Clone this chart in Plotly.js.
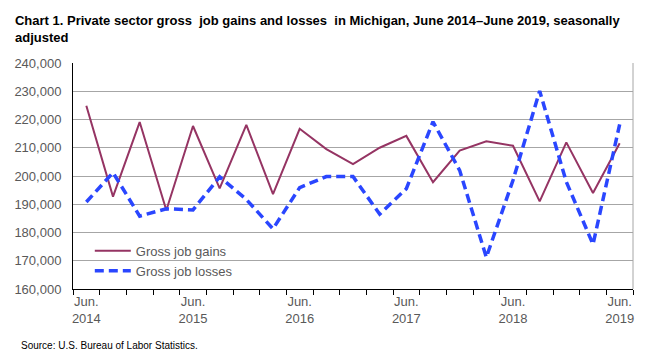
<!DOCTYPE html>
<html>
<head>
<meta charset="utf-8">
<script src="https://cdn.plot.ly/plotly-3.0.1.min.js"></script>
<style>
html,body{margin:0;padding:0;background:#fff;}
#chart{width:651px;height:364px;}
</style>
</head>
<body>
<div id="chart"></div>
<script>
const categories = [
  "Jun 2014","Sep 2014","Dec 2014","Mar 2015",
  "Jun 2015","Sep 2015","Dec 2015","Mar 2016",
  "Jun 2016","Sep 2016","Dec 2016","Mar 2017",
  "Jun 2017","Sep 2017","Dec 2017","Mar 2018",
  "Jun 2018","Sep 2018","Dec 2018","Mar 2019",
  "Jun 2019"
];
const grossJobGains = [
  224900, 192700, 219100, 187900,
  217700, 195600, 218100, 193600,
  216700, 209500, 204200, 210000,
  214200, 197800, 209000, 212300,
  210700, 191000, 211900, 194000,
  211600
];
const grossJobLosses = [
  190800, 201200, 185800, 188400,
  188000, 199700, 191700, 181300,
  195900, 199800, 199800, 186500,
  195500, 219200, 202000, 171200,
  198500, 230100, 197900, 175800,
  218300
];
const tickLabelMap = {
  "Jun 2014":"Jun.<br>2014","Jun 2015":"Jun.<br>2015","Jun 2016":"Jun.<br>2016",
  "Jun 2017":"Jun.<br>2017","Jun 2018":"Jun.<br>2018","Jun 2019":"Jun.<br>2019"
};
const yTickVals = [160000,170000,180000,190000,200000,210000,220000,230000,240000];
const yTickText = ["160,000","170,000","180,000","190,000","200,000","210,000","220,000","230,000","240,000"];

const traces = [
  {
    x: categories, y: grossJobGains, type: "scatter", mode: "lines",
    name: "Gross job gains",
    line: {color: "#953463", width: 2}
  },
  {
    x: categories, y: grossJobLosses, type: "scatter", mode: "lines",
    name: "Gross job losses",
    line: {color: "#2A46FF", width: 3.5, dash: "9px,5px"}
  }
];

const layout = {
  width: 651, height: 364,
  paper_bgcolor: "#ffffff", plot_bgcolor: "#ffffff",
  margin: {l: 73, r: 18, t: 63, b: 75, pad: 0},
  font: {family: "Liberation Sans, Arial, sans-serif", color: "#595959", size: 13},
  title: {
    text: "<b>Chart 1. Private sector gross  job gains and losses  in Michigan, June 2014–June 2019, seasonally<br>adjusted</b>",
    font: {family: "Liberation Sans, Arial, sans-serif", size: 13, color: "#000000"},
    x: 0.023, xref: "container", xanchor: "left",
    y: 0.93, yref: "container", yanchor: "top"
  },
  xaxis: {
    type: "category",
    tickmode: "array",
    tickvals: categories,
    ticktext: categories.map(c => tickLabelMap[c] || ""),
    tickson: "boundaries",
    tickangle: 0,
    ticks: "outside", ticklen: 5, tickcolor: "#000000", tickwidth: 1,
    showgrid: false, zeroline: false,
    showline: true, linecolor: "#000000", linewidth: 1,
    mirror: false,
    tickfont: {size: 13, color: "#595959"},
    range: [-0.5, 20.5],
    fixedrange: true
  },
  yaxis: {
    range: [160000, 240000],
    tickmode: "array", tickvals: yTickVals, ticktext: yTickText,
    showgrid: true, gridcolor: "#A6A6A6", gridwidth: 1,
    showline: true, linecolor: "#000000", linewidth: 1,
    zeroline: false, ticks: "", ticklabelstandoff: 8,
    tickfont: {size: 13, color: "#595959"},
    fixedrange: true
  },
  shapes: [
    {type: "line", xref: "paper", yref: "paper", x0: 1, x1: 1, y0: 0, y1: 1,
     line: {color: "#A6A6A6", width: 1}}
  ],
  legend: {
    x: 0.03, y: 0.235, xanchor: "left", yanchor: "top",
    bgcolor: "rgba(0,0,0,0)", borderwidth: 0,
    font: {size: 13, color: "#595959"},
    tracegroupgap: 0, itemwidth: 36
  },
  annotations: [
    {text: "Source: U.S. Bureau of Labor Statistics.", xref: "paper", yref: "paper",
     x: -0.096, y: -0.25, xanchor: "left", yanchor: "middle", showarrow: false,
     font: {size: 10, color: "#000000", family: "Liberation Sans, Arial, sans-serif"}}
  ],
  showlegend: true
};

Plotly.newPlot("chart", traces, layout, {displayModeBar: false, staticPlot: true});
</script>
</body>
</html>
